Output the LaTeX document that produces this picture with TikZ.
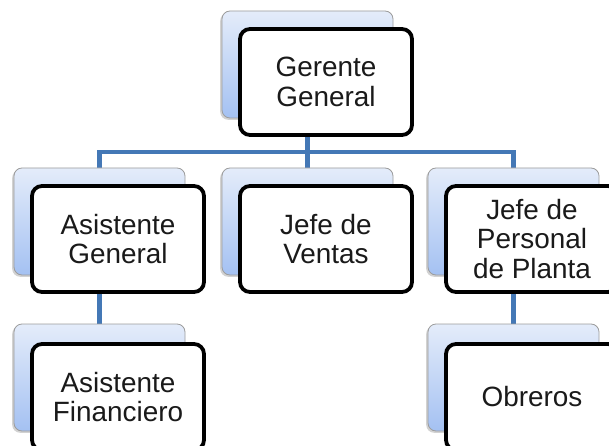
\documentclass[tikz,border=0pt]{standalone}
\usepackage{fontspec}
\setmainfont{Liberation Sans}
\usetikzlibrary{shadows}
\definecolor{connblue}{HTML}{4478B6}
\definecolor{backtop}{HTML}{E4ECFA}
\definecolor{backbot}{HTML}{A4C1F2}
\definecolor{backedge}{HTML}{9C9C9C}
\definecolor{txt}{HTML}{1A1A1A}
\tikzset{
  backbox/.style={draw=backedge, line width=0.8pt, rounded corners=8pt,
    top color=backtop, bottom color=backbot, minimum width=171pt, minimum height=107pt,
    inner sep=0pt, drop shadow={shadow xshift=-1.8pt, shadow yshift=-1.8pt, opacity=0.35, fill=gray}},
  frontbox/.style={draw=black, line width=3.8pt, rounded corners=10pt, fill=white,
    minimum width=172pt, minimum height=106pt, inner sep=0pt, align=center,
    text=txt, font=\fontsize{27.9}{29.7}\selectfont},
  conn/.style={draw=connblue, line width=4.4pt}
}
\begin{document}
\begin{tikzpicture}[x=1pt, y=-1pt]
\useasboundingbox (0,0) rectangle (609,446);
\clip (0,0) rectangle (609,446);
\fill[white] (0,0) rectangle (609,446);
% positions of the back boxes
\coordinate (c0) at (307.5,64.5);
\coordinate (c1) at (99.5,221.5);
\coordinate (c2) at (307.5,221.5);
\coordinate (c3) at (513.5,221.5);
\coordinate (c4) at (99.5,377.5);
\coordinate (c5) at (513.5,377.5);
% connectors
\draw[conn] (c0) -- (c2);
\draw[conn] (c1) -- ++(0,-69.5) -| (c3);
\draw[conn] (c1) -- (c4);
\draw[conn] (c3) -- (c5);
% back boxes
\node[backbox] (b0) at (c0) {};
\node[backbox] (b1) at (c1) {};
\node[backbox] (b2) at (c2) {};
\node[backbox] (b3) at (c3) {};
\node[backbox] (b4) at (c4) {};
\node[backbox] (b5) at (c5) {};
% front boxes
\node[frontbox] (f0) at ([shift={(18.5,17.5)}]c0) {Gerente\\General};
\node[frontbox] (f1) at ([shift={(18.5,17.5)}]c1) {Asistente\\General};
\node[frontbox] (f2) at ([shift={(18.5,17.5)}]c2) {Jefe de\\Ventas};
\node[frontbox] (f3) at ([shift={(18.5,17.5)}]c3) {Jefe de\\Personal\\de Planta};
\node[frontbox] (f4) at ([shift={(18.5,19.5)}]c4) {Asistente\\Financiero};
\node[frontbox] (f5) at ([shift={(18.5,19.5)}]c5) {Obreros};
\end{tikzpicture}
\end{document}
